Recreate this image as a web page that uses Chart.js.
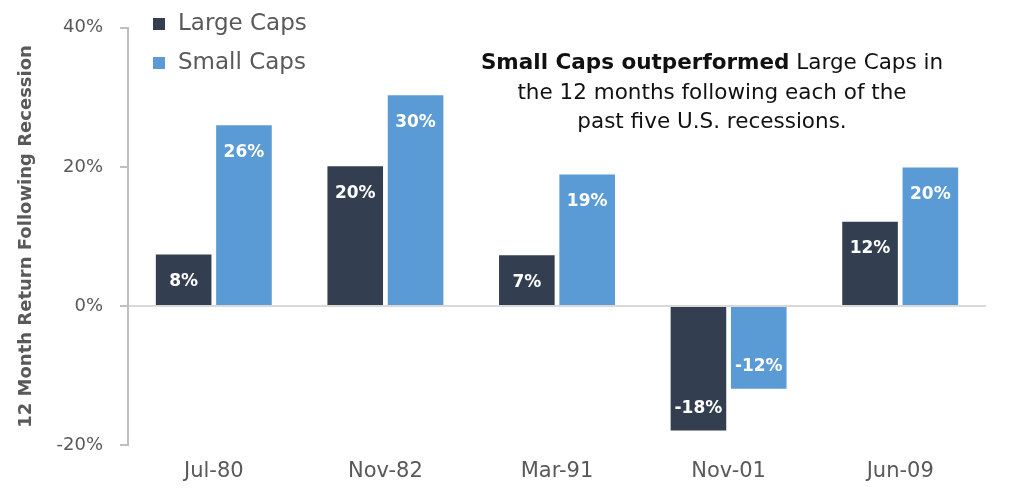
<!DOCTYPE html>
<html>
<head>
<meta charset="utf-8">
<script src="https://cdn.jsdelivr.net/npm/chart.js@4"></script>
<style>
  html, body { margin: 0; padding: 0; background: #fff; }
  #wrap { width: 1009px; height: 493px; position: relative; }
</style>
</head>
<body>
<div id="wrap"><canvas id="chart"></canvas></div>
<script>
// ── DATOS ──
const categories = ['Jul-80', 'Nov-82', 'Mar-91', 'Nov-01', 'Jun-09'];
const largeCaps = [7.4, 20.1, 7.3, -17.9, 12.1];
const smallCaps = [26.0, 30.3, 18.9, -11.9, 19.9];
const largeLabels = ['8%', '20%', '7%', '-18%', '12%'];
const smallLabels = ['26%', '30%', '19%', '-12%', '20%'];
const yTicks = [-20, 0, 20, 40];

const FONT = "'DejaVu Sans', sans-serif";
const GRAY = '#595959';

// etiquetas blancas dentro de cada barra
const barLabels = {
  id: 'barLabels',
  afterDatasetsDraw(chart) {
    const ctx = chart.ctx;
    const texts = [largeLabels, smallLabels];
    ctx.save();
    ctx.font = 'bold 17px ' + FONT;
    ctx.fillStyle = '#fff';
    ctx.textAlign = 'center';
    ctx.textBaseline = 'middle';
    chart.data.datasets.forEach((ds, i) => {
      chart.getDatasetMeta(i).data.forEach((bar, j) => {
        const v = ds.data[j];
        const y = v >= 0 ? bar.y + 27 : bar.y - 22;
        ctx.fillText(texts[i][j], bar.x, y);
      });
    });
    ctx.restore();
  }
};

// leyenda vertical + nota de texto
const extras = {
  id: 'extras',
  afterDraw(chart) {
    const ctx = chart.ctx;
    ctx.save();
    ctx.textBaseline = 'middle';
    ctx.textAlign = 'left';
    ctx.font = '23px ' + FONT;
    chart.data.datasets.forEach((ds, i) => {
      const cy = 24 + i * 39;
      ctx.fillStyle = ds.backgroundColor;
      ctx.fillRect(153, cy - 6, 12, 12);
      ctx.fillStyle = GRAY;
      ctx.fillText(ds.label, 178, cy);
    });

    // nota
    const cx = 712;
    const fs = '21.5px ';
    ctx.fillStyle = '#111';
    const bold = 'Small Caps outperformed';
    const rest = ' Large Caps in';
    ctx.font = 'bold ' + fs + FONT;
    const wb = ctx.measureText(bold).width;
    ctx.font = fs + FONT;
    const wr = ctx.measureText(rest).width;
    let x0 = cx - (wb + wr) / 2;
    ctx.font = 'bold ' + fs + FONT;
    ctx.fillText(bold, x0, 63);
    ctx.font = fs + FONT;
    ctx.fillText(rest, x0 + wb, 63);
    ctx.textAlign = 'center';
    ctx.fillText('the 12 months following each of the', cx, 93);
    ctx.fillText('past five U.S. recessions.', cx, 122);
    ctx.restore();
  }
};

new Chart(document.getElementById('chart'), {
  type: 'bar',
  data: {
    labels: categories,
    datasets: [
      { label: 'Large Caps', data: largeCaps, backgroundColor: '#333f50', borderWidth: 0 },
      { label: 'Small Caps', data: smallCaps, backgroundColor: '#5b9bd5', borderWidth: 0 }
    ]
  },
  options: {
    responsive: true,
    maintainAspectRatio: false,
    animation: false,
    categoryPercentage: 0.703,
    barPercentage: 0.922,
    layout: { padding: { top: 25, right: 23, left: 0, bottom: 0 } },
    plugins: { legend: { display: false }, tooltip: { enabled: false } },
    scales: {
      x: {
        grid: { display: false, drawTicks: false },
        border: { display: false },
        ticks: { color: GRAY, font: { family: FONT, size: 21 }, padding: 14 },
        afterFit(scale) { scale.height = 48; }
      },
      y: {
        min: -20, max: 40,
        afterBuildTicks(scale) { scale.ticks = yTicks.map(v => ({ value: v })); },
        grid: {
          color: c => (c.tick && c.tick.value === 0 ? '#d9d9d9' : 'rgba(0,0,0,0)'),
          lineWidth: 2,
          tickColor: '#bfbfbf',
          tickLength: 8
        },
        border: { color: '#bfbfbf', width: 2 },
        ticks: {
          color: GRAY,
          font: { family: FONT, size: 18 },
          padding: 17,
          callback: v => v + '%'
        },
        title: {
          display: true,
          text: '12 Month Return Following Recession',
          color: GRAY,
          font: { family: FONT, size: 18, weight: 'bold' },
          padding: { top: 16, bottom: 0 }
        },
        afterFit(scale) { scale.width = 128; }
      }
    }
  },
  plugins: [barLabels, extras]
});
</script>
</body>
</html>
